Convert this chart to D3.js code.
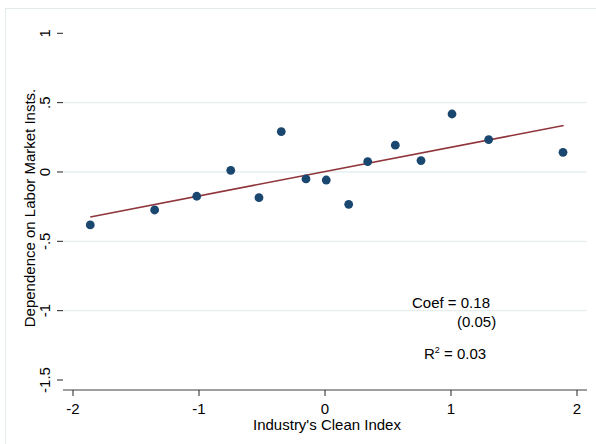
<!DOCTYPE html>
<html>
<head>
<meta charset="utf-8">
<script src="https://cdn.jsdelivr.net/npm/d3@7"></script>
<style>
  html, body { margin: 0; padding: 0; background: #fff; }
  svg { display: block; font-family: "Liberation Sans", Arial, sans-serif; }
</style>
</head>
<body>
<svg id="chart" width="596" height="444"></svg>
<script>
// Binned scatter: clean index vs. dependence on labor market institutions
const cleanIndex = [-1.863, -1.352, -1.018, -0.748, -0.524, -0.347, -0.151, 0.010,
    0.188, 0.339, 0.558, 0.762, 1.008, 1.299, 1.889];
const dependence = [-0.382, -0.274, -0.175, 0.012, -0.185, 0.291, -0.050, -0.058,
    -0.233, 0.075, 0.193, 0.082, 0.418, 0.234, 0.142];

// fitted line endpoints
const fitX = [-1.863, 1.894];
const fitY = [-0.324, 0.335];

const xTicks = [-2, -1, 0, 1, 2];
const yTicks = [-1.5, -1, -0.5, 0, 0.5, 1];
const yGrid = [-1, -0.5, 0, 0.5];
const yTickLabels = { '-1.5': '-1.5', '-1': '-1', '-0.5': '-.5', '0': '0', '0.5': '.5', '1': '1' };

const annot = ['Coef = 0.18', '(0.05)', 'R', '2', ' = 0.03'];

const FONT = 15;
const svg = d3.select('#chart');

const x = d3.scaleLinear().domain([-2, 2]).range([73, 577]);
const y = d3.scaleLinear().domain([-1.5, 1]).range([380, 33.3]);
const plotLeft = 63, plotRight = 587, axisY = 390;

/**
 * Outer graph region frame.
 */
function drawFrame() {
    svg.append('rect')
        .attr('x', 5.5).attr('y', 8.5)
        .attr('width', 620).attr('height', 460)
        .attr('fill', '#fff')
        .attr('stroke', '#e3ebed')
        .attr('stroke-width', 1);
}

/**
 * Horizontal gridlines, y ticks and rotated y labels.
 */
function drawYAxis() {
    svg.append('g').selectAll('line')
        .data(yGrid)
        .join('line')
        .attr('x1', plotLeft).attr('x2', plotRight)
        .attr('y1', d => y(d)).attr('y2', d => y(d))
        .attr('stroke', '#e6eff0')
        .attr('stroke-width', 1.3);

    const g = svg.append('g');
    g.selectAll('line')
        .data(yTicks)
        .join('line')
        .attr('x1', 57).attr('x2', 63)
        .attr('y1', d => y(d)).attr('y2', d => y(d))
        .attr('stroke', '#222')
        .attr('stroke-width', 1);

    g.selectAll('text')
        .data(yTicks)
        .join('text')
        .attr('transform', d => `translate(50,${y(d)}) rotate(-90)`)
        .attr('text-anchor', 'middle')
        .attr('font-size', FONT)
        .attr('fill', '#000')
        .text(d => yTickLabels[String(d)]);

    svg.append('text')
        .attr('transform', 'translate(35,208) rotate(-90)')
        .attr('text-anchor', 'middle')
        .attr('font-size', FONT)
        .attr('fill', '#000')
        .text('Dependence on Labor Market Insts.');
}

/**
 * Bottom axis line, ticks and title.
 */
function drawXAxis() {
    svg.append('line')
        .attr('x1', plotLeft).attr('x2', plotRight)
        .attr('y1', axisY).attr('y2', axisY)
        .attr('stroke', '#7f7f7f')
        .attr('stroke-width', 1.6);

    const g = svg.append('g');
    g.selectAll('line')
        .data(xTicks)
        .join('line')
        .attr('x1', d => x(d)).attr('x2', d => x(d))
        .attr('y1', axisY).attr('y2', axisY + 6)
        .attr('stroke', '#222')
        .attr('stroke-width', 1);

    g.selectAll('text')
        .data(xTicks)
        .join('text')
        .attr('x', d => x(d))
        .attr('y', 414)
        .attr('text-anchor', 'middle')
        .attr('font-size', FONT)
        .attr('fill', '#000')
        .text(d => String(d));

    svg.append('text')
        .attr('x', 327).attr('y', 430)
        .attr('text-anchor', 'middle')
        .attr('font-size', FONT)
        .attr('fill', '#000')
        .text("Industry's Clean Index");
}

/**
 * Fitted line and scatter points.
 */
function drawMarks() {
    const line = d3.line().x(d => x(d[0])).y(d => y(d[1]));
    svg.append('path')
        .datum(d3.zip(fitX, fitY))
        .attr('d', line)
        .attr('fill', 'none')
        .attr('stroke', '#90353b')
        .attr('stroke-width', 1.6);

    svg.append('g').selectAll('circle')
        .data(d3.zip(cleanIndex, dependence))
        .join('circle')
        .attr('cx', d => x(d[0]))
        .attr('cy', d => y(d[1]))
        .attr('r', 4.4)
        .attr('fill', '#1a476f');
}

/**
 * Regression annotation text.
 */
function drawAnnotation() {
    const g = svg.append('g').attr('font-size', FONT).attr('fill', '#000');
    g.append('text').attr('x', 412).attr('y', 308).text(annot[0]);
    g.append('text').attr('x', 457).attr('y', 326.5).text(annot[1]);
    const t = g.append('text').attr('x', 424).attr('y', 359);
    t.append('tspan').text(annot[2]);
    t.append('tspan').attr('font-size', 9).attr('dy', -6).text(annot[3]);
    t.append('tspan').attr('dy', 6).text(annot[4]);
}

drawFrame();
drawYAxis();
drawXAxis();
drawMarks();
drawAnnotation();
</script>
</body>
</html>
